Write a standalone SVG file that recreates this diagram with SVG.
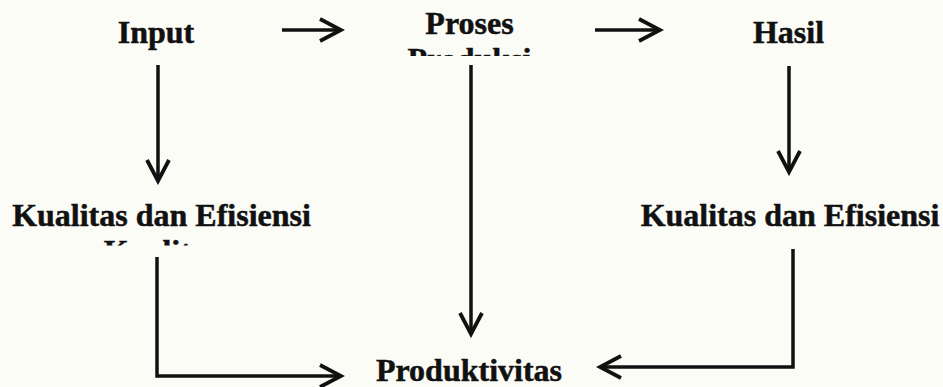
<svg xmlns="http://www.w3.org/2000/svg" width="943" height="387" viewBox="0 0 943 387">
  <style>
    .lbl { font-family: "Liberation Serif", "Times New Roman", serif; font-weight: bold; font-size: 32px; fill: #111; stroke: #111; stroke-width: 0.5; text-anchor: middle; }
    .wire { fill: none; stroke: #111; stroke-width: 3.5; stroke-linejoin: miter; }
  </style>
  <defs>
    <marker id="head" markerUnits="userSpaceOnUse" markerWidth="30" markerHeight="30" viewBox="-26 -14 30 28" refX="0" refY="0" orient="auto">
      <path d="M-21,-11 L0,0 L-21,11" fill="none" stroke="#111" stroke-width="3.8"/>
    </marker>
    <!-- boxes that cut the wrapped second lines short -->
    <clipPath id="clipProses"><rect x="380" y="0" width="180" height="56"/></clipPath>
    <clipPath id="clipKualitasL"><rect x="0" y="180" width="330" height="65.5"/></clipPath>
  </defs>

  <rect width="943" height="387" fill="#fcfcf7"/>

  <g id="input"><text class="lbl" x="156" y="43">Input</text></g>

  <g id="proses" clip-path="url(#clipProses)">
    <text class="lbl" x="469.5" y="34">Proses</text>
    <text class="lbl" x="469.5" y="70">Produksi</text>
  </g>

  <g id="hasil"><text class="lbl" x="788.5" y="43">Hasil</text></g>

  <g id="kualitas-input" clip-path="url(#clipKualitasL)">
    <text class="lbl" x="161.5" y="226">Kualitas dan Efisiensi</text>
    <text class="lbl" x="161.5" y="262">Kualitas</text>
  </g>

  <g id="kualitas-hasil"><text class="lbl" x="790" y="226">Kualitas dan Efisiensi</text></g>

  <g id="produktivitas"><text class="lbl" x="469" y="381">Produktivitas</text></g>

  <g id="connectors">
    <line class="wire" x1="282" y1="30" x2="341" y2="30" marker-end="url(#head)"/>
    <line class="wire" x1="595" y1="30" x2="660" y2="30" marker-end="url(#head)"/>
    <line class="wire" x1="158" y1="65" x2="158" y2="181" marker-end="url(#head)"/>
    <line class="wire" x1="789" y1="66" x2="789" y2="172" marker-end="url(#head)"/>
    <line class="wire" x1="471" y1="65" x2="471" y2="334" marker-end="url(#head)"/>
    <polyline class="wire" points="157,257 157,376 341,376" marker-end="url(#head)"/>
    <polyline class="wire" points="793,249 793,367 600,367" marker-end="url(#head)"/>
  </g>
</svg>
